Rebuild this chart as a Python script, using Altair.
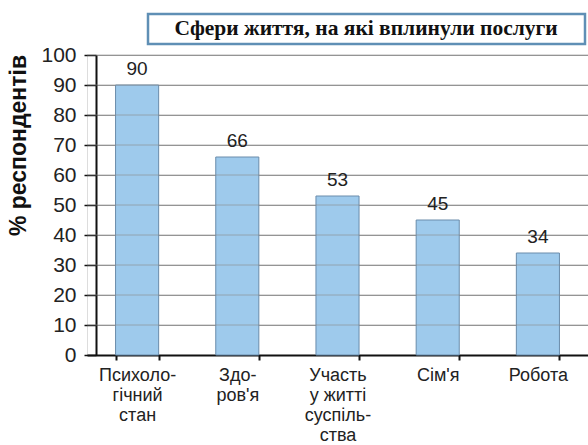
import altair as alt
import pandas as pd

# Survey results: spheres of life affected by the services
categories = [
    "Психоло-\nгічний\nстан",
    "Здо-\nров'я",
    "Участь\nу житті\nсуспіль-\nства",
    "Сім'я",
    "Робота",
]
percent = [90, 66, 53, 45, 34]
y_ticks = list(range(0, 101, 10))

title_text = "Сфери життя, на які вплинули послуги"
y_title = "% респондентів"

df = pd.DataFrame({"sphere": categories, "value": percent})
grid_df = pd.DataFrame({"value": y_ticks[1:]})
head_df = pd.DataFrame({"heading": [title_text]})

x_enc = alt.X(
    "sphere:N",
    sort=None,
    title=None,
    scale=alt.Scale(paddingInner=0.57, paddingOuter=0.285),
    axis=alt.Axis(
        labelAngle=0,
        labelExpr="split(datum.label, '\\n')",
        labelFont="Liberation Sans",
        labelFontSize=18,
        labelLineHeight=20,
        labelColor="#222222",
        labelPadding=6,
        labelBaseline="top",
        tickBand="extent",
        tickSize=5,
        tickColor="#111111",
        tickWidth=2,
        domainColor="#111111",
        domainWidth=2,
        grid=False,
    ),
)

y_enc = alt.Y(
    "value:Q",
    scale=alt.Scale(domain=[0, 100]),
    axis=alt.Axis(
        values=y_ticks,
        labelOverlap=False,
        title=y_title,
        titleFont="Liberation Sans",
        titleFontSize=23,
        titleFontWeight="bold",
        titleColor="#111111",
        titleAngle=-90,
        titleAlign="center",
        titleBaseline="middle",
        titleX=-78,
        titleY=90,
        labelFont="Liberation Sans",
        labelFontSize=21,
        labelColor="#222222",
        labelPadding=8,
        tickSize=12,
        tickColor="#111111",
        tickWidth=1.5,
        domainColor="#111111",
        domainWidth=2,
        offset=-9,
        grid=True,
        gridColor="#9a9a9a",
        gridWidth=1.2,
    ),
)

bars = alt.Chart(df).mark_bar(
    color="#9ecaec", stroke="#6a8cab", strokeWidth=1
).encode(x=x_enc, y=y_enc)

# Grid lines repeated on top of the bars
grid_over = alt.Chart(grid_df).mark_rule(
    color="#8a8a8a", strokeWidth=1, opacity=0.6
).encode(y=y_enc)

labels = alt.Chart(df).mark_text(
    baseline="bottom",
    dy=-6,
    font="Liberation Sans",
    fontSize=19,
    color="#222222",
).encode(x=x_enc, y=y_enc, text="value:Q")

# Framed heading above the plot
frame = alt.Chart(head_df).mark_rect(
    fill="white", fillOpacity=0, stroke="#5f8fb5", strokeWidth=2.5, clip=False
).encode(
    x=alt.value(61), x2=alt.value(498), y=alt.value(-41), y2=alt.value(-11)
)

heading = alt.Chart(head_df).mark_text(
    font="Liberation Serif",
    fontSize=21.5,
    fontWeight="bold",
    color="#111111",
    align="center",
    baseline="middle",
    clip=False,
).encode(x=alt.value(279), y=alt.value(-26), text="heading:N")

chart = (
    alt.layer(bars, grid_over, labels, frame, heading)
    .properties(
        width=501,
        height=300,
        autosize=alt.AutoSizeParams(type="none"),
        padding={"left": 87, "top": 55, "right": 0, "bottom": 90},
    )
    .configure_view(strokeWidth=0)
    .configure(background="white")
)

chart.save("out.html", embed_options={"renderer": "svg", "actions": False})
